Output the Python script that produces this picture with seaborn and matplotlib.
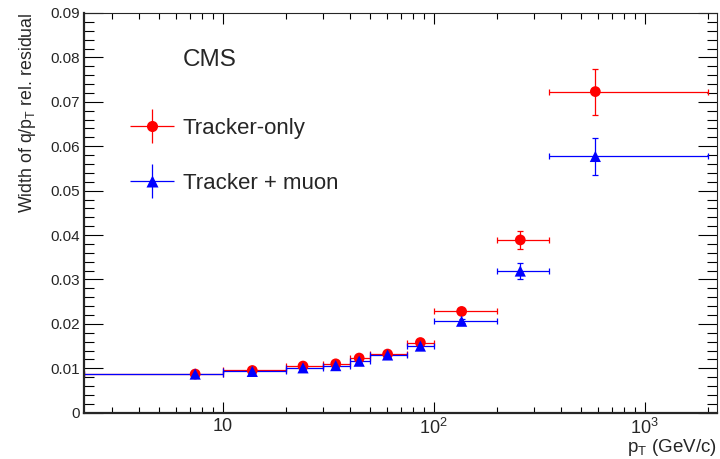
import numpy as np
import pandas as pd
import matplotlib
matplotlib.use("Agg")
import matplotlib.pyplot as plt
import seaborn as sns
from matplotlib.container import ErrorbarContainer
from matplotlib.legend_handler import HandlerErrorbar
from matplotlib.ticker import FixedLocator, LogLocator, MultipleLocator, NullFormatter, FuncFormatter

# pT bins (GeV/c) and mean pT inside each bin
bin_lo = [2.2, 10, 20, 30, 40, 50, 75, 100, 200, 350]
bin_hi = [10, 20, 30, 40, 50, 75, 100, 200, 350, 2000]
pt_mean = [7.4, 13.8, 24.0, 34.3, 44.3, 60.4, 86.4, 135.5, 257, 583]

# width of q/pT relative residual
width_trk = [0.0087, 0.0095, 0.0105, 0.0110, 0.0123, 0.0132, 0.0158, 0.0228, 0.0389, 0.0723]
err_trk = [0.0003, 0.0003, 0.0003, 0.0003, 0.0003, 0.0003, 0.0004, 0.0005, 0.0021, 0.0052]
width_mu = [0.0087, 0.0093, 0.0101, 0.0106, 0.0116, 0.0130, 0.0150, 0.0206, 0.0319, 0.0577]
err_mu = [0.0003, 0.0003, 0.0003, 0.0003, 0.0003, 0.0003, 0.0004, 0.0004, 0.0017, 0.0042]

xtick_vals = [10, 100, 1000]
xtick_labels = ["10", "$10^2$", "$10^3$"]

sns.set_theme(style="ticks")
plt.rcParams["font.family"] = ["Liberation Sans", "DejaVu Sans"]
plt.rcParams["mathtext.default"] = "regular"

df = pd.DataFrame({
    "pt": pt_mean * 2,
    "lo": bin_lo * 2,
    "hi": bin_hi * 2,
    "width": width_trk + width_mu,
    "err": err_trk + err_mu,
    "reco": ["Tracker-only"] * len(pt_mean) + ["Tracker + muon"] * len(pt_mean),
})

fig = plt.figure(figsize=(7.2, 4.59), dpi=100)
ax = fig.add_axes([0.1167, 0.1009, 0.8792, 0.8708])
ax.set_xscale("log")

styles = {"Tracker-only": ("#ff0000", "o", 60), "Tracker + muon": ("#0000ff", "^", 65)}
handles = []
for reco, (col, mk, sz) in styles.items():
    d = df[df["reco"] == reco]
    xerr = [d["pt"] - d["lo"], d["hi"] - d["pt"]]
    ax.errorbar(d["pt"], d["width"], xerr=xerr, yerr=d["err"], fmt="none",
                ecolor=col, elinewidth=0.9, capsize=2, capthick=0.9, zorder=2)
    sns.scatterplot(data=d, x="pt", y="width", marker=mk, color=col, s=sz,
                    edgecolor="none", ax=ax, zorder=3, legend=False)
    # legend proxy: marker with plain error cross, no caps
    proxy = ax.errorbar([np.nan], [np.nan], xerr=[1], yerr=[1], fmt=mk, color=col,
                        ms=8, mec="none", elinewidth=0.9, capsize=0)
    handles.append(proxy)

ax.set_xlim(2.2, 2200)
ax.set_ylim(0, 0.09)

ax.xaxis.set_major_locator(FixedLocator(xtick_vals))
ax.set_xticklabels(xtick_labels)
ax.xaxis.set_minor_locator(LogLocator(base=10, subs=np.arange(2, 10), numticks=20))
ax.xaxis.set_minor_formatter(NullFormatter())
ax.yaxis.set_major_locator(MultipleLocator(0.01))
ax.yaxis.set_minor_locator(MultipleLocator(0.002))
ax.yaxis.set_major_formatter(FuncFormatter(lambda v, p: "0" if abs(v) < 1e-9 else f"{v:.2f}"))

ax.tick_params(which="both", direction="in", top=True, right=True, color="black")
ax.tick_params(axis="y", which="major", length=14, width=0.8, labelsize=11, pad=3)
ax.tick_params(axis="y", which="minor", length=7, width=0.8)
ax.tick_params(axis="x", which="major", length=8, width=0.8, labelsize=13, pad=4)
ax.tick_params(axis="x", which="minor", length=4, width=0.8)

for side in ["left", "bottom"]:
    ax.spines[side].set_linewidth(1.6)
for side in ["top", "right"]:
    ax.spines[side].set_linewidth(0.8)

ax.set_xlabel("p$_T$ (GeV/c)", fontsize=13.5, loc="right")
ax.xaxis.set_label_coords(1.0, -0.06)
ax.set_ylabel("Width of q/p$_T$ rel. residual", fontsize=12.8, loc="top")
ax.yaxis.set_label_coords(-0.072, 1.0)

ax.text(0.156, 0.882, "CMS", transform=ax.transAxes, fontsize=17.5, va="center", ha="left")

ax.legend(handles, list(styles.keys()), loc="upper left", bbox_to_anchor=(0.072, 0.738),
          frameon=False, borderpad=0, borderaxespad=0, fontsize=16, handlelength=2.0,
          handletextpad=0.4, labelspacing=1.53,
          handler_map={ErrorbarContainer: HandlerErrorbar(xerr_size=1.0, yerr_size=0.75)})

fig.savefig("out.png", dpi=100)
